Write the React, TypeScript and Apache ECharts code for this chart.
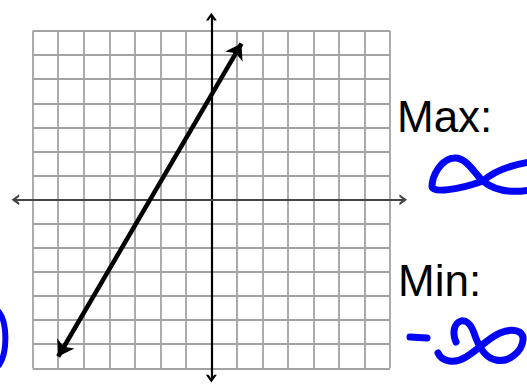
import React, { useEffect, useRef } from "react";
import * as echarts from "echarts";

// Coordinate plane extent (grid squares on each side of the origin)
const xRange = [-7, 7];
const yRange = [-7, 7];
// Extent of the drawn x / y axes (they run a little past the grid)
const xAxisExtent = [-7.68, 7.52];
const yAxisExtent = [-7.43, 7.6];
// Graphed line: its two end points
const lineStart = [-6.0, -6.51];
const lineEnd = [1.18, 6.48];
// Side annotations
const labels = ["Max:", "Min:"];

const W = 527;
const H = 385;
const plot = { left: 32.7, top: 31, width: 357.3, height: 337.3 };

// Handwritten notes
const INF_MAX =
  "M 483 181 C 492 173 505 166 530 162 M 530 190 C 512 193 496 192 483 181 C 474 173 467 158 455 158 C 441 158 432 176 432 187 C 433 193 458 190 483 181";
const INF_MIN =
  "M 410 337 L 427 338 M 438 353 C 442 362 455 364 466 357 C 478 350 488 338 500 333 C 512 328 524 330 523 340 C 522 352 508 363 496 360 C 484 358 478 345 474 333 C 471 324 466 320 461 321 C 454 323 452 333 456 342";
const PAREN = "M -1 312 C 7 322 8 352 -1 365";

const CHEVRON = "path://M0,7 L5,0 L10,7 L7.6,7 L5,3.4 L2.4,7 Z";

export default function App() {
  const ref = useRef<HTMLDivElement>(null);

  useEffect(() => {
    if (!ref.current) return;
    echarts.graphic.registerShape("infMax", echarts.graphic.extendPath(INF_MAX, {}));
    echarts.graphic.registerShape("infMin", echarts.graphic.extendPath(INF_MIN, {}));
    echarts.graphic.registerShape("paren", echarts.graphic.extendPath(PAREN, {}));

    const chart = echarts.init(ref.current, null, { renderer: "svg" });

    const sx = plot.width / (xRange[1] - xRange[0]);
    const sy = plot.height / (yRange[1] - yRange[0]);
    const x0 = plot.left - xRange[0] * sx;
    const y0 = plot.top + yRange[1] * sy;
    const axLeft = x0 + xAxisExtent[0] * sx;
    const axRight = W - (x0 + xAxisExtent[1] * sx);
    const axTop = y0 - yAxisExtent[1] * sy;
    const axBottom = H - (y0 - yAxisExtent[0] * sy);

    const gridLine = { show: true, lineStyle: { color: "#a2a2a2", width: 1.8 } };
    const hidden = {
      axisLine: { show: false },
      axisTick: { show: false },
      axisLabel: { show: false },
    };

    const textStyle = (text: string) => ({
      text,
      font: '44px "Liberation Sans", Arial, sans-serif',
      fill: "#000",
      textAlign: "left",
      textVerticalAlign: "middle",
      align: "left",
      verticalAlign: "middle",
    });
    const blue = { stroke: "#0505f5", fill: "none", lineCap: "round", lineJoin: "round" };

    chart.setOption({
      animation: false,
      backgroundColor: "#fff",
      grid: [
        {
          left: plot.left,
          top: plot.top,
          right: W - plot.left - plot.width,
          bottom: H - plot.top - plot.height,
          outerBoundsMode: "none",
        },
        { left: axLeft, right: axRight, top: axTop, bottom: axBottom, outerBoundsMode: "none" },
      ],
      xAxis: [
        { type: "value", gridIndex: 0, min: xRange[0], max: xRange[1], interval: 1, splitLine: gridLine, ...hidden },
        {
          type: "value",
          gridIndex: 1,
          min: xAxisExtent[0],
          max: xAxisExtent[1],
          axisLine: {
            show: true,
            onZero: true,
            symbol: [CHEVRON, CHEVRON],
            symbolSize: [11, 8],
            lineStyle: { color: "#454545", width: 2.2 },
          },
          axisTick: { show: false },
          axisLabel: { show: false },
          splitLine: { show: false },
        },
      ],
      yAxis: [
        { type: "value", gridIndex: 0, min: yRange[0], max: yRange[1], interval: 1, splitLine: gridLine, ...hidden },
        {
          type: "value",
          gridIndex: 1,
          min: yAxisExtent[0],
          max: yAxisExtent[1],
          axisLine: {
            show: true,
            onZero: true,
            symbol: [CHEVRON, CHEVRON],
            symbolSize: [11, 8],
            lineStyle: { color: "#000", width: 2.2 },
          },
          axisTick: { show: false },
          axisLabel: { show: false },
          splitLine: { show: false },
        },
      ],
      series: [
        {
          type: "lines",
          coordinateSystem: "cartesian2d",
          xAxisIndex: 0,
          yAxisIndex: 0,
          z: 5,
          symbol: ["arrow", "arrow"],
          symbolSize: 15,
          lineStyle: { color: "#000", width: 4.5, opacity: 1 },
          data: [{ coords: [lineStart, lineEnd] }],
        },
      ],
      graphic: [
        { type: "text", x: 397, y: 116.5, style: textStyle(labels[0]) },
        { type: "text", x: 398, y: 280.8, style: textStyle(labels[1]) },
        { type: "infMax", x: 0, y: 0, style: { ...blue, lineWidth: 7 } },
        { type: "infMin", x: 0, y: 0, style: { ...blue, lineWidth: 7 } },
        { type: "paren", x: 0, y: 0, style: { ...blue, lineWidth: 6 } },
      ],
    });

    return () => chart.dispose();
  }, []);

  return (
    <div
      ref={ref}
      style={{ position: "fixed", left: 0, top: 0, width: W, height: H, background: "#fff" }}
    />
  );
}
